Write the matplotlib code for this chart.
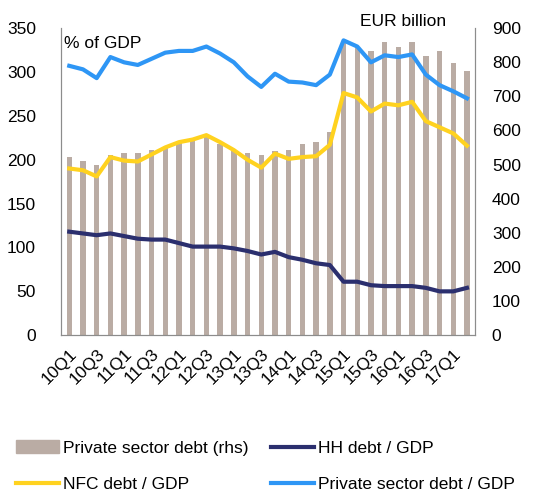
import matplotlib
matplotlib.use("Agg")
import matplotlib.pyplot as plt
import numpy as np
from matplotlib.patches import Patch
from matplotlib.lines import Line2D

plt.rcParams['font.family'] = ['Liberation Sans', 'DejaVu Sans']

quarters = [f"{y}Q{q}" for y in range(10, 18) for q in range(1, 5)][:30]

# EUR billion, right axis
private_debt_eur = [521, 512, 500, 528, 534, 535, 544, 552, 566, 576, 586, 561, 541, 533, 529, 541,
                    543, 559, 566, 596, 860, 845, 833, 860, 845, 858, 818, 834, 798, 775]
# % of GDP, left axis
hh_gdp = [118, 116, 114, 116, 113, 110, 109, 109, 105, 101, 101, 101, 99, 96, 92, 95,
          89, 86, 82, 80, 61, 61, 57, 56, 56, 56, 54, 50, 50, 54]
nfc_gdp = [190, 188, 181, 203, 199, 198, 206, 214, 220, 223, 228, 220, 211, 200, 191, 207,
           201, 203, 204, 217, 276, 271, 255, 264, 262, 266, 244, 237, 230, 216]
private_gdp = [307, 303, 293, 317, 311, 308, 315, 322, 324, 324, 329, 321, 311, 295, 283, 298,
               289, 288, 285, 297, 336, 329, 311, 319, 317, 320, 297, 285, 278, 270]

c_bar = '#baaca4'
c_hh = '#2b2f6e'
c_nfc = '#ffd21f'
c_priv = '#2e96f5'
grey = '#8c8c8c'
fs = 12.5

fig = plt.figure(figsize=(5.4, 4.93), dpi=100)
ax = fig.add_axes([0.113, 0.320, 0.767, 0.623])
ax2 = ax.twinx()

x = np.arange(len(quarters))
ax2.bar(x, private_debt_eur, width=0.4, color=c_bar, zorder=1)
ax2.set_ylim(0, 900)
ax2.set_yticks(range(0, 901, 100))

ax.set_zorder(ax2.get_zorder() + 1)
ax.patch.set_visible(False)
ax.plot(x, hh_gdp, color=c_hh, lw=3)
ax.plot(x, nfc_gdp, color=c_nfc, lw=3)
ax.plot(x, private_gdp, color=c_priv, lw=3)
ax.set_ylim(0, 350)
ax.set_yticks(range(0, 351, 50))
ax.set_xlim(-0.6, len(quarters) - 0.4)
ax.set_xticks(x[::2])
ax.set_xticklabels(quarters[::2], rotation=45, ha='right', rotation_mode='anchor')

for a in (ax, ax2):
    a.spines['top'].set_visible(False)
    for s in ('left', 'right', 'bottom'):
        a.spines[s].set_color(grey)
    a.tick_params(length=0, labelsize=fs)
ax.tick_params(axis='x', pad=8)
ax.tick_params(axis='y', pad=18)
ax2.tick_params(axis='y', pad=12)

ax.text(0.008, 0.975, '% of GDP', transform=ax.transAxes, fontsize=fs, va='top', ha='left')
fig.text(446 / 540, 1 - 21 / 493, 'EUR billion', fontsize=fs, va='center', ha='right')

handles = [Patch(color=c_bar), Line2D([], [], color=c_nfc, lw=3),
           Line2D([], [], color=c_hh, lw=3), Line2D([], [], color=c_priv, lw=3)]
labels = ['Private sector debt (rhs)', 'NFC debt / GDP', 'HH debt / GDP', 'Private sector debt / GDP']
fig.legend(handles, labels, ncol=2, loc='lower left', bbox_to_anchor=(0.01, -0.02),
           frameon=False, fontsize=fs, handlelength=2.5, handletextpad=0.2,
           columnspacing=1.3, labelspacing=1.25, borderaxespad=0.2)

fig.savefig('out.png', dpi=100)
